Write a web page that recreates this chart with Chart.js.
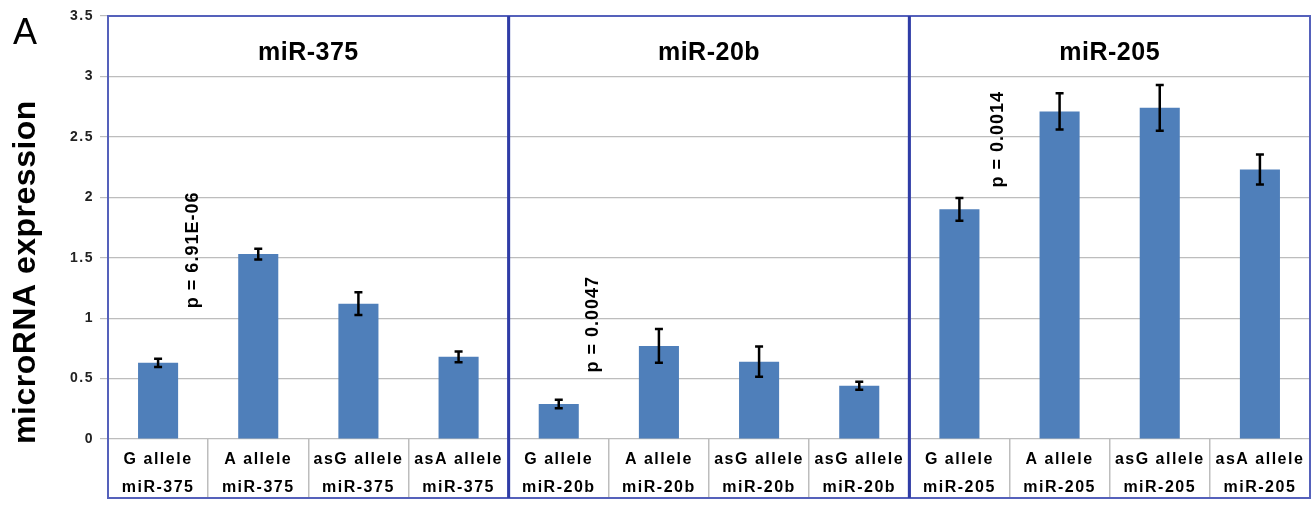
<!DOCTYPE html>
<html>
<head>
<meta charset="utf-8">
<script src="https://cdn.jsdelivr.net/npm/chart.js@4/dist/chart.umd.min.js"></script>
<style>
  html, body { margin: 0; padding: 0; background: #fff; }
  #wrap { width: 1314px; height: 508px; }
</style>
</head>
<body>
<div id="wrap"><canvas id="c" width="1314" height="508"></canvas></div>
<script>
// ---- data ----
const alleles = ['G allele','A allele','asG allele','asA allele',
                 'G allele','A allele','asG allele','asG allele',
                 'G allele','A allele','asG allele','asA allele'];
const mirs = ['miR-375','miR-375','miR-375','miR-375',
              'miR-20b','miR-20b','miR-20b','miR-20b',
              'miR-205','miR-205','miR-205','miR-205'];
const values = [0.63, 1.53, 1.12, 0.68,
                0.29, 0.77, 0.64, 0.44,
                1.90, 2.71, 2.74, 2.23];
const errors = [0.035, 0.045, 0.095, 0.045,
                0.035, 0.14, 0.125, 0.033,
                0.095, 0.15, 0.19, 0.125];
const yTickLabels = ['0','0.5','1','1.5','2','2.5','3','3.5'];
const panelTitles = ['miR-375','miR-20b','miR-205'];
const pLabels = ['p = 6.91E-06','p = 0.0047','p = 0.0014'];
const yTitle = 'microRNA expression';
const panelLetter = 'A';

// annotation anchors (category index offset, value) for p-labels
const pAnchors = [[0.35, 1.565], [4.34, 0.95], [8.39, 2.48]];

const FONT = "'Liberation Sans', Arial, Helvetica, sans-serif";

const overlay = {
  id: 'overlay',
  beforeDraw(chart) {
    chart.ctx.letterSpacing = '1.5px';
  },
  afterDatasetsDraw(chart) {
    const ctx = chart.ctx;
    const xs = chart.scales.x, ys = chart.scales.y;
    ctx.save();
    ctx.strokeStyle = '#000';
    ctx.lineWidth = 2.5;
    ctx.lineCap = 'butt';
    values.forEach((v, i) => {
      const x = xs.getPixelForValue(i);
      const yt = ys.getPixelForValue(v + errors[i]);
      const yb = ys.getPixelForValue(v - errors[i]);
      ctx.beginPath();
      ctx.moveTo(x, yt); ctx.lineTo(x, yb);
      ctx.moveTo(x - 4, yt); ctx.lineTo(x + 4, yt);
      ctx.moveTo(x - 4, yb); ctx.lineTo(x + 4, yb);
      ctx.stroke();
    });
    ctx.restore();
  },
  afterDraw(chart) {
    const ctx = chart.ctx;
    const xs = chart.scales.x, ys = chart.scales.y;
    const top = chart.chartArea.top;
    const bottom = xs.bottom - 1;
    ctx.save();
    ctx.letterSpacing = '0px';
    // panel boxes
    for (let p = 0; p < 3; p++) {
      const xl = xs.getPixelForValue(p * 4 - 0.5);
      const xr = xs.getPixelForValue(p * 4 + 3.5);
      ctx.strokeStyle = '#5561bb';
      ctx.lineWidth = 2;
      ctx.strokeRect(xl, top, xr - xl, bottom - top);
    }
    ctx.strokeStyle = '#2f3ca6';
    ctx.lineWidth = 3;
    [3.5, 7.5].forEach(b => {
      const x = xs.getPixelForValue(b);
      ctx.beginPath(); ctx.moveTo(x, top); ctx.lineTo(x, bottom); ctx.stroke();
    });
    // panel titles
    ctx.fillStyle = '#000';
    ctx.font = 'bold 25px ' + FONT;
    ctx.letterSpacing = '0.5px';
    ctx.textAlign = 'center';
    ctx.textBaseline = 'middle';
    panelTitles.forEach((t, p) => {
      const x = xs.getPixelForValue(p * 4 + 1.5);
      ctx.fillText(t, x, 53);
    });
    // p-values (rotated)
    ctx.font = 'bold 18px ' + FONT;
    ctx.letterSpacing = '1px';
    pLabels.forEach((t, k) => {
      const x = xs.getPixelForValue(pAnchors[k][0]);
      const y = ys.getPixelForValue(pAnchors[k][1]);
      ctx.save();
      ctx.translate(x, y);
      ctx.rotate(-Math.PI / 2);
      ctx.fillText(t, 0, 0);
      ctx.restore();
    });
    // y title
    ctx.font = 'bold 32px ' + FONT;
    ctx.letterSpacing = '0.5px';
    ctx.save();
    ctx.translate(26, 272);
    ctx.rotate(-Math.PI / 2);
    ctx.fillText(yTitle, 0, 0);
    ctx.restore();
    // panel letter
    ctx.font = '36px ' + FONT;
    ctx.letterSpacing = '0px';
    ctx.textAlign = 'left';
    ctx.textBaseline = 'alphabetic';
    ctx.fillText(panelLetter, 13, 44);
    ctx.restore();
  }
};

new Chart(document.getElementById('c'), {
  type: 'bar',
  data: {
    labels: alleles,
    datasets: [{
      data: values,
      backgroundColor: '#4f7fba',
      borderWidth: 0,
      barPercentage: 0.4,
      categoryPercentage: 1.0
    }]
  },
  options: {
    responsive: false,
    animation: false,
    events: [],
    layout: { padding: { left: 0, right: 4, top: 16, bottom: 9 } },
    plugins: { legend: { display: false }, tooltip: { enabled: false } },
    scales: {
      x: {
        offset: true,
        border: { display: false },
        grid: { offset: true, drawOnChartArea: false, drawTicks: true, tickLength: 58, color: '#bdbdbd', lineWidth: 1.5 },
        ticks: {
          autoSkip: false, maxRotation: 0, minRotation: 0,
          padding: -51,
          color: '#000',
          font: { family: FONT, size: 16, weight: 'bold', lineHeight: '28px' },
          callback: (v, i) => [alleles[i], mirs[i]]
        },
        afterFit: s => { s.height = 60; }
      },
      y: {
        min: 0, max: 3.5,
        border: { display: false },
        grid: { color: '#bdbdbd', lineWidth: 1.2, tickLength: 8 },
        ticks: {
          stepSize: 0.5,
          padding: 6,
          color: '#222',
          font: { family: FONT, size: 14, weight: 'bold' },
          callback: (v, i) => yTickLabels[i]
        },
        afterFit: s => { s.width = 108; }
      }
    }
  },
  plugins: [overlay]
});
</script>
</body>
</html>
